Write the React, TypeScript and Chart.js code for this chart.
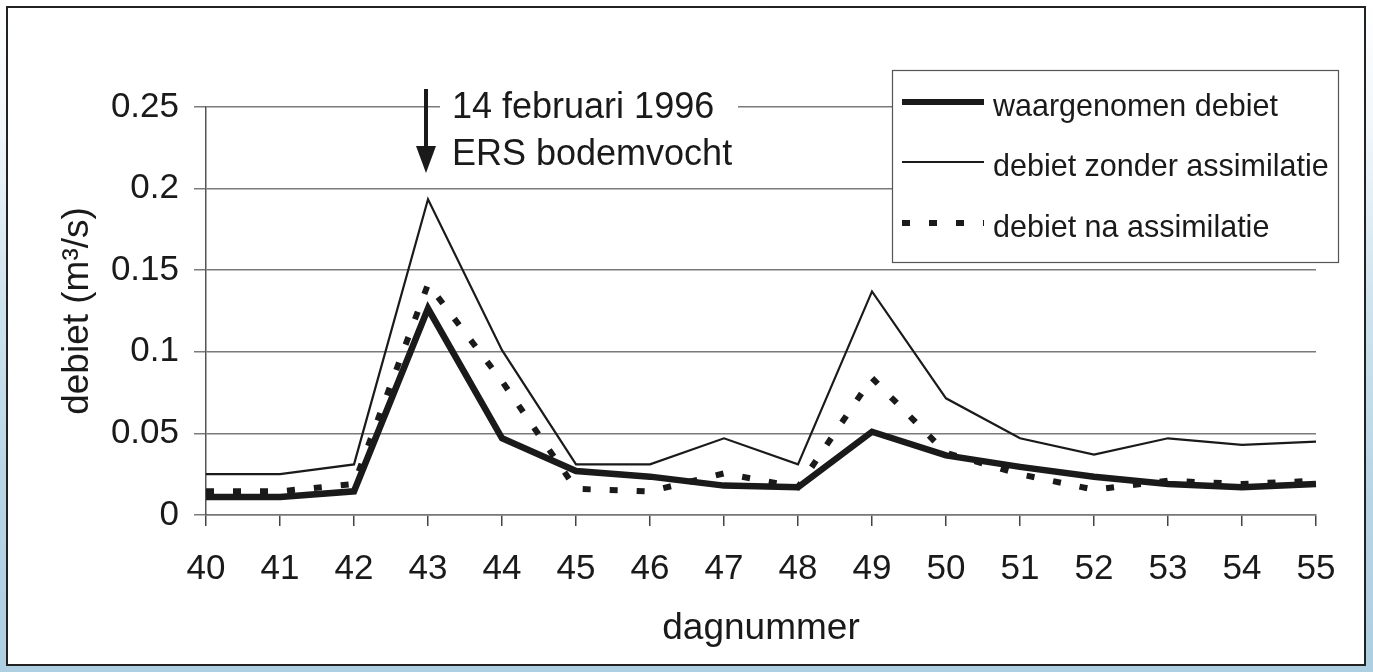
import React, { useEffect, useRef } from "react";
import { Chart, registerables } from "chart.js";

Chart.register(...registerables);

const days = ["40", "41", "42", "43", "44", "45", "46", "47", "48", "49", "50", "51", "52", "53", "54", "55"];
const waargenomen = [0.011, 0.011, 0.0145, 0.1265, 0.047, 0.027, 0.0235, 0.018, 0.017, 0.051, 0.0365, 0.0295, 0.0235, 0.019, 0.017, 0.019];
const zonderAssimilatie = [0.025, 0.025, 0.031, 0.1935, 0.101, 0.031, 0.031, 0.047, 0.031, 0.137, 0.0715, 0.047, 0.037, 0.047, 0.043, 0.045];
const naAssimilatie = [0.0145, 0.0145, 0.019, 0.1415, 0.082, 0.016, 0.0145, 0.0255, 0.017, 0.084, 0.038, 0.025, 0.0155, 0.021, 0.019, 0.021];
const yTickLabels = ["0", "0.05", "0.1", "0.15", "0.2", "0.25"];
const seriesNames = ["waargenomen debiet", "debiet zonder assimilatie", "debiet na assimilatie"];
const eventDay = "43";
const eventLines = ["14 februari 1996", "ERS bodemvocht"];

const FONT = "'Liberation Sans', Arial, Helvetica, sans-serif";
const INK = "#1a1a1a";

const overlayPlugin = {
  id: "overlay",
  afterDatasetsDraw(chart: any) {
    const ctx = chart.ctx;
    const xs = chart.scales.x;
    const ax = xs.getPixelForValue(days.indexOf(eventDay)) - 2;
    ctx.save();
    // annotation background
    ctx.fillStyle = "#ffffff";
    ctx.fillRect(ax + 14, 82, 298, 92);
    // arrow
    ctx.fillStyle = INK;
    ctx.fillRect(ax - 2, 89, 4, 60);
    ctx.beginPath();
    ctx.moveTo(ax - 10, 146);
    ctx.lineTo(ax + 10, 146);
    ctx.lineTo(ax, 173);
    ctx.closePath();
    ctx.fill();
    ctx.font = `36px ${FONT}`;
    ctx.textAlign = "left";
    ctx.textBaseline = "middle";
    ctx.fillText(eventLines[0], ax + 26, 108);
    ctx.fillText(eventLines[1], ax + 26, 155);

    // legend
    const lx = 892, ly = 70, lw = 446, lh = 192;
    ctx.fillStyle = "#ffffff";
    ctx.fillRect(lx, ly, lw, lh);
    ctx.strokeStyle = "#555";
    ctx.lineWidth = 1.2;
    ctx.strokeRect(lx + 0.5, ly + 0.5, lw, lh);
    const rows = [102, 162, 223];
    chart.data.datasets.forEach((ds: any, i: number) => {
      const y = rows[i];
      ctx.beginPath();
      ctx.strokeStyle = ds.borderColor;
      ctx.lineWidth = i === 1 ? 2.2 : 6;
      ctx.setLineDash(ds.borderDash || []);
      ctx.lineCap = "butt";
      ctx.moveTo(902, y);
      ctx.lineTo(984, y);
      ctx.stroke();
      ctx.setLineDash([]);
      ctx.fillStyle = INK;
      ctx.font = `30.5px ${FONT}`;
      ctx.textAlign = "left";
      ctx.textBaseline = "middle";
      ctx.fillText(ds.label, 993, y + 6);
    });
    ctx.restore();
  },
};

export default function App() {
  const ref = useRef<HTMLCanvasElement | null>(null);
  useEffect(() => {
    if (!ref.current) return;
    const chart = new Chart(ref.current, {
      type: "line",
      data: {
        labels: days,
        datasets: [
          {
            label: seriesNames[0],
            data: waargenomen,
            borderColor: INK,
            borderWidth: 6.5,
            pointRadius: 0,
            tension: 0,
            borderJoinStyle: "miter",
            fill: false,
          },
          {
            label: seriesNames[1],
            data: zonderAssimilatie,
            borderColor: INK,
            borderWidth: 2.2,
            pointRadius: 0,
            tension: 0,
            borderJoinStyle: "miter",
            fill: false,
          },
          {
            label: seriesNames[2],
            data: naAssimilatie,
            borderColor: INK,
            borderWidth: 6,
            borderDash: [8, 19],
            pointRadius: 0,
            tension: 0,
            fill: false,
          },
        ],
      },
      options: {
        animation: false,
        responsive: false,
        maintainAspectRatio: false,
        layout: { padding: { top: 107, right: 57, bottom: 0, left: 0 } },
        plugins: {
          legend: { display: false },
          tooltip: { enabled: false },
          title: { display: false },
        },
        scales: {
          x: {
            type: "category",
            offset: false,
            grid: {
              display: true,
              drawOnChartArea: false,
              drawTicks: true,
              tickLength: 11,
              color: "#444",
              lineWidth: 1.5,
            },
            border: { display: true, color: "#777", width: 1.5 },
            ticks: {
              color: INK,
              font: { family: FONT, size: 35 },
              padding: 22,
              maxRotation: 0,
              autoSkip: false,
            },
            title: {
              display: true,
              text: "dagnummer",
              color: INK,
              font: { family: FONT, size: 37 },
              padding: { top: 0, bottom: 21 },
            },
            afterFit: (s: any) => {
              s.height = 157;
            },
          },
          y: {
            min: 0,
            max: 0.25,
            grid: {
              color: "#7a7a7a",
              lineWidth: 1.5,
              drawTicks: true,
              tickLength: 12,
            },
            border: { display: true, color: "#555", width: 1.5 },
            ticks: {
              stepSize: 0.05,
              color: INK,
              font: { family: FONT, size: 35 },
              padding: 15,
              callback: (_v: any, i: number) => yTickLabels[i],
            },
            title: {
              display: true,
              text: "debiet (m³/s)",
              color: INK,
              font: { family: FONT, size: 37 },
              padding: { top: 56, bottom: 0 },
            },
            afterFit: (s: any) => {
              s.width = 206;
            },
          },
        },
      },
      plugins: [overlayPlugin],
    });
    return () => chart.destroy();
  }, []);

  return (
    <div
      style={{
        position: "fixed",
        left: 0,
        top: 0,
        width: 1373,
        height: 672,
        background:
          "linear-gradient(to bottom, #ffffff 0%, #f0f6fa 20%, #cfe3ee 45%, #b6d4e4 75%, #aecfe1 100%)",
        overflow: "hidden",
      }}
    >
      <div
        style={{
          position: "absolute",
          left: 6,
          top: 6,
          width: 1360,
          height: 660,
          boxSizing: "border-box",
          border: "2px solid #222",
          background: "#ffffff",
        }}
      />
      <canvas
        ref={ref}
        width={1373}
        height={672}
        style={{ position: "absolute", left: 0, top: 0, width: 1373, height: 672 }}
      />
    </div>
  );
}
